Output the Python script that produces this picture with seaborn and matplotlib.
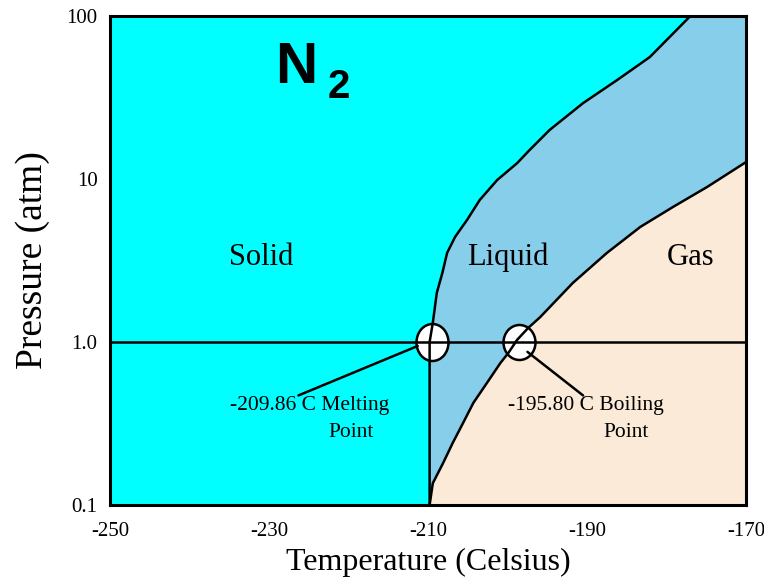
import numpy as np
import matplotlib
matplotlib.use("Agg")
import matplotlib.pyplot as plt
from matplotlib.path import Path
from matplotlib.transforms import Affine2D
import seaborn as sns

# phase boundaries (T in Celsius, P in atm)
melt_T = [-209.8, -209.8, -209.4, -208.9, -208.2, -207.6, -206.6, -205.1, -203.5,
          -201.3, -198.8, -197.2, -194.7, -190.5, -186.2, -182.1, -177.0]
melt_P = [0.1, 1.0, 1.31, 2.0, 2.65, 3.52, 4.41, 5.6, 7.43,
          9.86, 12.5, 15.1, 20.0, 29.2, 40.5, 56.0, 100.0]
boil_T = [-209.8, -209.4, -208.1, -206.9, -205.6, -204.3, -202.6, -200.9, -199.9,
          -198.8, -197.4, -195.9, -191.8, -187.5, -183.3, -179.2, -174.9, -170.0]
boil_P = [0.1, 0.136, 0.181, 0.24, 0.318, 0.423, 0.56, 0.743, 0.856,
          1.03, 1.22, 1.42, 2.3, 3.52, 5.08, 6.73, 8.93, 12.7]

x_ticks = [-250, -230, -210, -190, -170]
y_ticks = [0.1, 1.0, 10, 100]
y_tick_labels = ["0.1", "1.0", "10", "100"]
points_T = [-209.5, -198.55]
points_P = [1.0, 1.0]
melt_label = ["-209.86 C Melting", "Point"]
boil_label = ["-195.80 C Boiling", "Point"]
regions = ["Solid", "Liquid", "Gas"]
region_T = [-231.0, -200.0, -177.0]
region_P = [3.3, 3.3, 3.3]

sns.set_style("white")
plt.rcParams["font.family"] = ["Liberation Serif", "DejaVu Serif"]
plt.rcParams["text.color"] = "black"
plt.rcParams["axes.labelcolor"] = "black"
plt.rcParams["xtick.color"] = "black"
plt.rcParams["ytick.color"] = "black"

fig = plt.figure(figsize=(7.64, 5.83), dpi=100)
ax = fig.add_axes([0.144, 0.1338, 0.8325, 0.8388])
ax.set_yscale("log")
ax.set_xlim(-250, -170)
ax.set_ylim(0.1, 100)
ax.set_facecolor("#00FFFF")

# liquid and gas areas
liq_x = melt_T + [-170] + boil_T[::-1]
liq_y = melt_P + [100] + boil_P[::-1]
ax.fill(liq_x, liq_y, color="#87CEEB", lw=0, zorder=1)
gas_x = boil_T + [-170]
gas_y = boil_P + [0.1]
ax.fill(gas_x, gas_y, color="#FAEAD7", lw=0, zorder=1)

# circles at melting / boiling points
circ = Path.unit_circle()
ell_m = circ.transformed(Affine2D().scale(0.865, 1.0))
ell_b = circ.transformed(Affine2D().scale(0.914, 1.0))
ax.scatter([points_T[0]], [points_P[0]], s=710, marker=ell_m, facecolor="white",
           edgecolor="black", linewidth=1.8, zorder=2)
ax.scatter([points_T[1]], [points_P[1]], s=635, marker=ell_b, facecolor="white",
           edgecolor="black", linewidth=1.8, zorder=2)

# boundaries
sns.lineplot(x=melt_T, y=melt_P, sort=False, estimator=None, color="black", lw=1.8, ax=ax, zorder=3)
sns.lineplot(x=boil_T, y=boil_P, sort=False, estimator=None, color="black", lw=1.8, ax=ax, zorder=3)
ax.axhline(1.0, color="black", lw=1.8, zorder=3)

# leader lines
ax.plot([-211.3, -226.3], [0.945, 0.47], color="black", lw=1.8, zorder=3)
ax.plot([-197.5, -190.5], [0.87, 0.47], color="black", lw=1.8, zorder=3)

ax.text(-234.9, 0.405, melt_label[0], fontsize=15.5, va="center", ha="left")
ax.text(-222.5, 0.28, melt_label[1], fontsize=15.5, va="center", ha="left")
ax.text(-199.9, 0.405, boil_label[0], fontsize=15.5, va="center", ha="left")
ax.text(-188.0, 0.28, boil_label[1], fontsize=15.5, va="center", ha="left")

for name, t, p in zip(regions, region_T, region_P):
    ax.text(t, p, name, fontsize=22, ha="center", va="center")

ax.text(0.259, 0.863, "N", transform=ax.transAxes, fontsize=42, fontweight="bold",
        family="Liberation Sans", ha="left", va="baseline")
ax.text(0.342, 0.832, "2", transform=ax.transAxes, fontsize=29, fontweight="bold",
        family="Liberation Sans", ha="left", va="baseline")

ax.set_xticks(x_ticks)
ax.set_xticklabels([str(v) for v in x_ticks])
ax.yaxis.set_major_locator(matplotlib.ticker.FixedLocator(y_ticks))
ax.yaxis.set_minor_locator(matplotlib.ticker.NullLocator())
ax.set_yticklabels(y_tick_labels)
ax.tick_params(axis="both", length=0, labelsize=15)
ax.tick_params(axis="x", pad=12)
ax.tick_params(axis="y", pad=9)
ax.set_xlabel("Temperature (Celsius)", fontsize=23, labelpad=5)
ax.set_ylabel("Pressure (atm)", fontsize=27, labelpad=12)
for sp in ax.spines.values():
    sp.set_color("black")
    sp.set_linewidth(2.2)
    sp.set_zorder(5)
ax.grid(False)

fig.savefig("out.png", dpi=100)
